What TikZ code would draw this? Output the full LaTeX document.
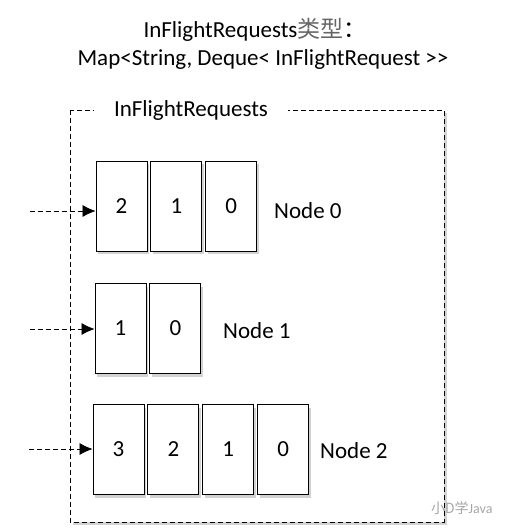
\documentclass[tikz,border=0pt]{standalone}
\usepackage{fontspec}
\setmainfont{Carlito}
\newfontfamily\cjk{Noto Sans CJK SC}
\usetikzlibrary{shadows,arrows,arrows.meta,positioning}

\tikzset{
	reqbox/.style={draw=black, line width=0.9pt, fill=white, minimum width=51pt, minimum height=90pt, inner sep=0pt, font=\fontsize{23}{23}\selectfont, drop shadow={shadow xshift=2pt, shadow yshift=-3pt, opacity=0.35}},
	nodelabel/.style={anchor=west, inner sep=0pt, font=\fontsize{23}{23}\selectfont},
	inarrow/.style={-{Latex[length=13pt,width=12pt]}, dash pattern=on 5pt off 3pt, line width=0.7pt}
}

\begin{document}
\begin{tikzpicture}[x=1pt,y=-1pt]
	\useasboundingbox (0,0) rectangle (512,531);
	
	% title
	\node (title1) at (255,30) {\fontsize{23}{25}\selectfont InFlightRequests{\cjk\color{black!60}类型}{\cjk ：}};
	\node (title2) at (263,59) {\fontsize{23}{25}\selectfont Map<String, Deque< InFlightRequest >{}>};
	
	% frame
	\draw[dash pattern=on 5pt off 3pt, line width=0.9pt, fill=white, drop shadow={shadow xshift=3pt, shadow yshift=-3pt, opacity=0.35}] (70,110) rectangle (444,522);
	\node[fill=white, inner xsep=20pt, inner ysep=2pt, font=\fontsize{23}{23}\selectfont] (frame) at (191,110) {InFlightRequests};
	
	% node 0
	\node[reqbox] (a2) at (121.5,206) {2};
	\node[reqbox, right=3pt of a2] (a1) {1};
	\node[reqbox, right=3pt of a1] (a0) {0};
	\node[nodelabel] (n0) at (274,211) {Node 0};
	\coordinate (s0) at (30,211);
	\draw[inarrow] (s0) -- (s0 -| a2.west);
	
	% node 1
	\node[reqbox] (b1) at (120.5,328.5) {1};
	\node[reqbox, right=3pt of b1] (b0) {0};
	\node[nodelabel] (n1) at (223,331) {Node 1};
	\coordinate (s1) at (30,329);
	\draw[inarrow] (s1) -- (s1 -| b1.west);
	
	% node 2
	\node[reqbox] (c3) at (118.5,449.5) {3};
	\node[reqbox, right=3pt of c3] (c2) {2};
	\node[reqbox, right=3pt of c2] (c1) {1};
	\node[reqbox, right=3pt of c1] (c0) {0};
	\node[nodelabel] (n2) at (320,451) {Node 2};
	\coordinate (s2) at (29,449);
	\draw[inarrow] (s2) -- (s2 -| c3.west);
	
	% watermark
	\node[anchor=east, text=black!35, font=\fontsize{14}{14}\selectfont] (mark) at (496,508) {{\cjk 小D学}Java};
	
\end{tikzpicture}
\end{document}
